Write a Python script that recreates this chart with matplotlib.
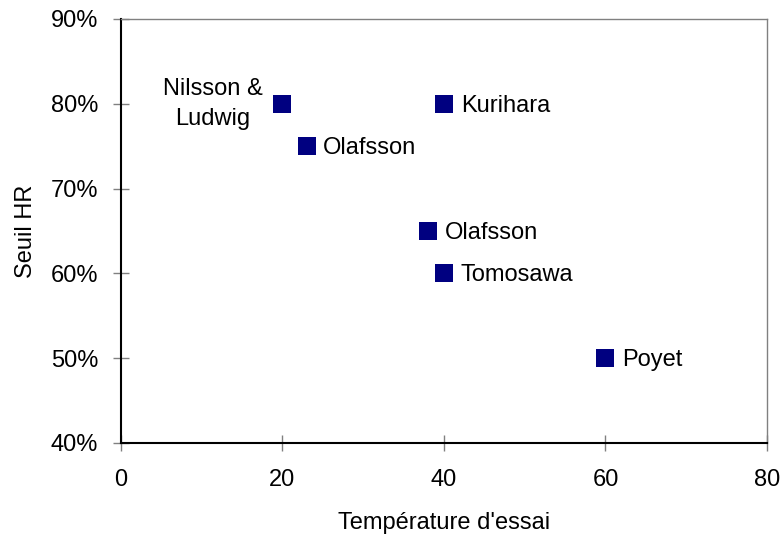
import matplotlib
matplotlib.use("Agg")
import matplotlib.pyplot as plt
from matplotlib.ticker import FuncFormatter

# données
temperatures = [20, 23, 40, 38, 40, 60]
seuils_hr = [0.80, 0.75, 0.80, 0.65, 0.60, 0.50]
auteurs = ["Nilsson &\nLudwig", "Olafsson", "Kurihara", "Olafsson", "Tomosawa", "Poyet"]
x_ticks = [0, 20, 40, 60, 80]
y_ticks = [0.4, 0.5, 0.6, 0.7, 0.8, 0.9]

plt.rcParams["font.family"] = ["Liberation Sans", "DejaVu Sans"]
FS = 17

fig = plt.figure(figsize=(7.83, 5.35), dpi=100)
ax = fig.add_axes([0.1545, 0.172, 0.825, 0.7925])

ax.plot(temperatures, seuils_hr, linestyle="none", marker="s", markersize=13.3,
        color="#000080", markeredgewidth=0, zorder=3)

for x, y, nom in zip(temperatures, seuils_hr, auteurs):
    if "Nilsson" in nom:
        # étiquette sur deux lignes, à gauche du point
        ax.annotate(nom, (x, y), xytext=(-14.5, 0), textcoords="offset points",
                    ha="right", va="center", multialignment="center",
                    fontsize=FS, linespacing=1.5)
    else:
        ax.annotate(nom, (x, y), xytext=(12, -1.5), textcoords="offset points",
                    ha="left", va="center", fontsize=FS)

ax.set_xlim(0, 80)
ax.set_ylim(0.4, 0.9)
ax.set_xticks(x_ticks)
ax.set_yticks(y_ticks)
ax.yaxis.set_major_formatter(FuncFormatter(lambda v, _: f"{v * 100:.0f}%"))
ax.tick_params(direction="inout", length=11, width=1, color="#808080",
               labelsize=FS)
ax.tick_params(axis="x", pad=13)
ax.tick_params(axis="y", pad=11)

ax.set_xlabel("Température d'essai", fontsize=FS, labelpad=15)
ax.set_ylabel("Seuil HR", fontsize=FS, labelpad=10)

for side in ("left", "bottom"):
    ax.spines[side].set_color("black")
    ax.spines[side].set_linewidth(1.5)
for side in ("top", "right"):
    ax.spines[side].set_color("#808080")
    ax.spines[side].set_linewidth(1)

fig.savefig("out.png", dpi=100)
